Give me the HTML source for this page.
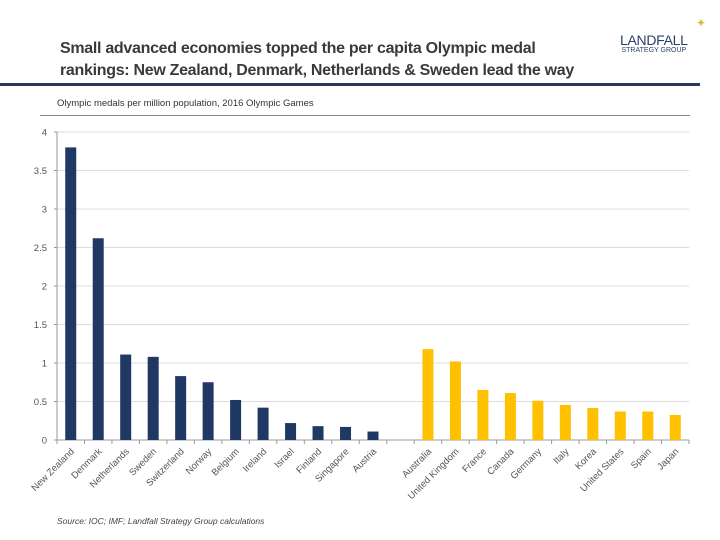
<!DOCTYPE html>
<html><head><meta charset="utf-8"><style>
body{margin:0;width:720px;height:540px;background:#fff;font-family:"Liberation Sans",sans-serif;position:relative;overflow:hidden}
.abs{position:absolute}
</style></head><body>
<div class="abs" style="left:60px;top:38px;font-size:16px;font-weight:bold;color:#3a3a3a;line-height:22px;letter-spacing:-0.3px">Small advanced economies topped the per capita Olympic medal<br>rankings: New Zealand, Denmark, Netherlands &amp; Sweden lead the way</div>
<div class="abs" style="left:620px;top:32px;text-align:center;color:#2b3f66">
<div style="font-size:14px;letter-spacing:-0.3px">LANDFALL</div>
<div style="font-size:7px;margin-top:-1px">STRATEGY GROUP</div></div>
<div class="abs" style="left:696px;top:16px;color:#e8b640;font-size:12px">✦</div>
<div class="abs" style="left:0;top:83px;width:700px;height:3px;background:#2b3a5a"></div>
<div class="abs" style="left:57px;top:98px;font-size:9.5px;color:#333">Olympic medals per million population, 2016 Olympic Games</div>
<div class="abs" style="left:40px;top:115px;width:650px;height:1px;background:#888"></div>
<svg class="abs" style="left:0;top:0" width="720" height="540">
<g id="g"></g></svg>
<div class="abs" style="left:57px;top:516px;font-size:8.5px;font-style:italic;color:#444">Source: IOC; IMF; Landfall Strategy Group calculations</div>
<script>
const categories=["New Zealand","Denmark","Netherlands","Sweden","Switzerland","Norway","Belgium","Ireland","Israel","Finland","Singapore","Austria","","Australia","United Kingdom","France","Canada","Germany","Italy","Korea","United States","Spain","Japan"];
const values=[3.8,2.62,1.11,1.08,0.83,0.75,0.52,0.42,0.22,0.18,0.17,0.11,null,1.18,1.02,0.65,0.61,0.51,0.455,0.415,0.37,0.37,0.325];
const groups=["small","small","small","small","small","small","small","small","small","small","small","small","","large","large","large","large","large","large","large","large","large","large"];
const yTicks=[0,0.5,1,1.5,2,2.5,3,3.5,4];
const yLabels=["0","0.5","1","1.5","2","2.5","3","3.5","4"];
const X0=57,X1=689,Y0=440,Y1=132;
const bw=(X1-X0)/categories.length;
const y=v=>Y0-(v/4)*(Y0-Y1);
const g=document.getElementById('g');const NS='http://www.w3.org/2000/svg';
function mk(t,a){const e=document.createElementNS(NS,t);for(const k in a)e.setAttribute(k,a[k]);g.appendChild(e);return e;}
yTicks.forEach((t,i)=>{
 if(t>0){const l=mk('line',{x1:X0,x2:X1,y1:y(t),y2:y(t),stroke:'#dcdcdc','stroke-width':1});
 
 }
 const tk=mk('line',{x1:X0-3,x2:X0,y1:y(t),y2:y(t),stroke:'#999'});
 
 
 const tx=mk('text',{x:X0-10,y:y(t)+3.5,'text-anchor':'end','font-size':9.5,fill:'#555','font-family':'Liberation Sans'});
 tx.textContent=yLabels[i];
 
 
});
const ya=mk('line',{x1:X0,x2:X0,y1:Y1,y2:Y0,stroke:'#999'});


const xa=mk('line',{x1:X0,x2:X1,y1:Y0,y2:Y0,stroke:'#999'});


for(let i=0;i<=categories.length;i++){const t=mk('line',{x1:X0+i*bw,x2:X0+i*bw,y1:Y0,y2:Y0+4,stroke:'#999'});
 
 }
categories.forEach((c,i)=>{
 const cx=X0+(i+0.5)*bw;
 if(values[i]!=null){const r=mk('rect',{x:cx-5.5,y:y(values[i]),width:11,height:Y0-y(values[i]),fill:groups[i]==='small'?'#203864':'#ffc000'});
 
 }
 if(c){const t=mk('text',{x:cx+4,y:Y0+12,'text-anchor':'end','font-size':9.5,fill:'#555','font-family':'Liberation Sans',transform:`rotate(-45 ${cx+4} ${Y0+12})`});
 t.textContent=c;
 
 }
});
</script>
</body></html>
